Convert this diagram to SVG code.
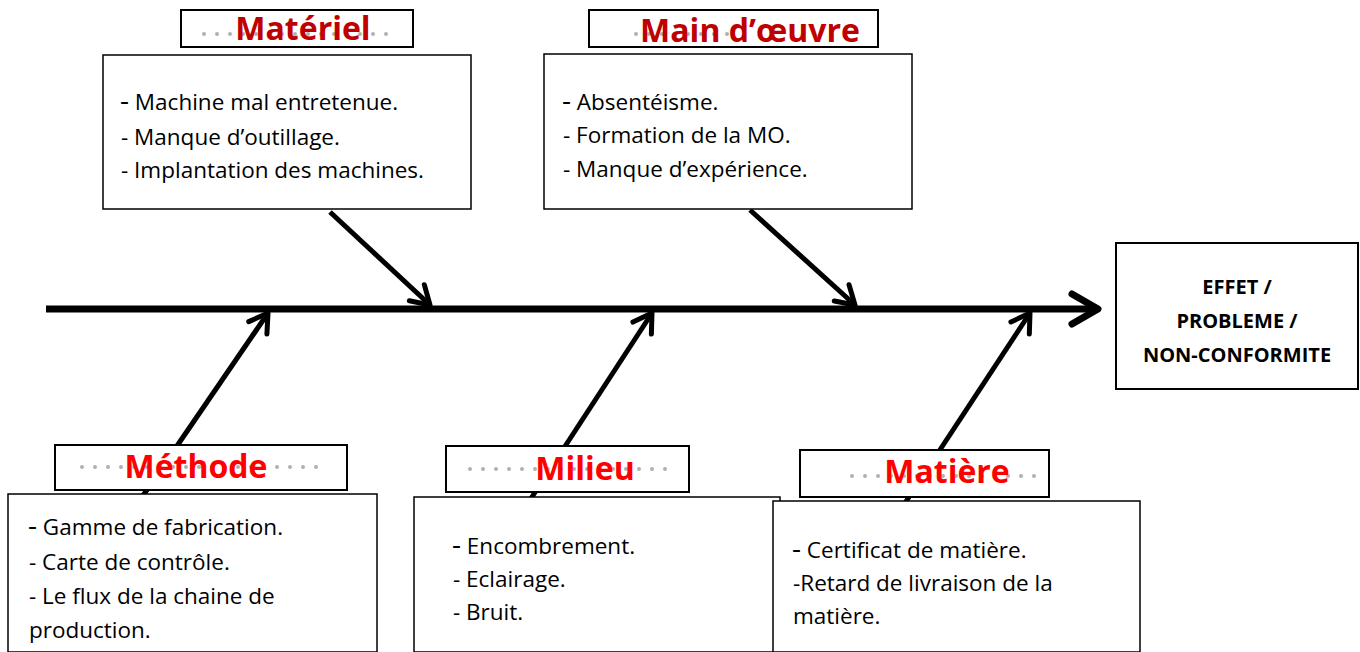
<svg xmlns="http://www.w3.org/2000/svg" width="1360" height="652" viewBox="0 0 1360 652">
<defs>
<marker id="ahb" viewBox="0 0 40 40" refX="30" refY="20" markerWidth="40" markerHeight="40" markerUnits="userSpaceOnUse" orient="auto" overflow="visible">
<path d="M4,5 L30,20 L4,35" fill="none" stroke="#000" stroke-width="7" stroke-linecap="round" stroke-linejoin="round"/>
</marker>
<marker id="a" viewBox="0 0 30 30" refX="24" refY="15" markerWidth="30" markerHeight="30" markerUnits="userSpaceOnUse" orient="auto" overflow="visible">
<path d="M6,4 L24,15 L6,26" fill="none" stroke="#000" stroke-width="5" stroke-linecap="round" stroke-linejoin="round"/>
</marker>
</defs>
<style>
.box{fill:#fff;stroke:#000;stroke-width:1.5}
.lbl{fill:#fff;stroke:#000;stroke-width:2}
.t{font-family:"Open Sans",Lato,sans-serif;font-size:22.5px;fill:#000}
.h1{font-family:"Open Sans",Lato,sans-serif;font-size:32px;font-weight:bold;fill:#C00000;text-anchor:middle}
.h2{font-family:"Open Sans",Lato,sans-serif;font-size:32px;font-weight:bold;fill:#FF0000;text-anchor:middle}
.dots{stroke:#b0b0b0;stroke-width:4;stroke-linecap:round;stroke-dasharray:0 13;fill:none}
.eff{font-family:"Open Sans",Lato,sans-serif;font-size:20px;font-weight:bold;fill:#000;text-anchor:middle}
.br{stroke:#000;stroke-width:5;fill:none;marker-end:url(#a)}
.big{font-size:28px}
</style>
<rect width="1360" height="652" fill="#fff"/>
<g id="connectors">
<line x1="46" y1="309" x2="1098" y2="309" stroke="#000" stroke-width="7" marker-end="url(#ahb)"/>
<line class="br" x1="330" y1="212" x2="430" y2="305"/>
<line class="br" x1="750" y1="210" x2="855" y2="305"/>
<line class="br" x1="140" y1="500" x2="268" y2="313"/>
<line class="br" x1="530" y1="500" x2="652" y2="313"/>
<line class="br" x1="905" y1="503" x2="1030" y2="313"/>
</g>
<g id="materiel">
<rect class="lbl" x="181" y="10" width="232" height="37"/>
<line class="dots" x1="204" y1="34" x2="390" y2="34"/>
<text class="h1" x="303" y="40">Matériel</text>
<rect class="box" x="103" y="55" width="368" height="154"/>
<text class="t" x="120" y="110"><tspan class="big">-</tspan> Machine mal entretenue.</text>
<text class="t" x="121" y="145">- Manque d’outillage.</text>
<text class="t" x="121" y="178">- Implantation des machines.</text>
</g>
<g id="main-oeuvre">
<rect class="lbl" x="589" y="10" width="289" height="37"/>
<line class="dots" x1="636" y1="34" x2="740" y2="34"/>
<text class="h1" x="750" y="42">Main d’œuvre</text>
<rect class="box" x="544" y="54" width="368" height="155"/>
<text class="t" x="562" y="110"><tspan class="big">-</tspan> Absentéisme.</text>
<text class="t" x="563" y="143">- Formation de la MO.</text>
<text class="t" x="563" y="177">- Manque d’expérience.</text>
</g>
<g id="methode">
<rect class="lbl" x="55" y="445" width="292" height="45"/>
<line class="dots" x1="82" y1="467" x2="320" y2="467"/>
<text class="h2" x="196" y="478">Méthode</text>
<rect class="box" x="8" y="494" width="369" height="158"/>
<text class="t" x="28" y="535"><tspan class="big">-</tspan> Gamme de fabrication.</text>
<text class="t" x="29" y="570">- Carte de contrôle.</text>
<text class="t" x="29" y="604">- Le flux de la chaine de</text>
<text class="t" x="29" y="638">production.</text>
</g>
<g id="milieu">
<rect class="lbl" x="446" y="446" width="243" height="46"/>
<line class="dots" x1="470" y1="469" x2="668" y2="469"/>
<text class="h2" x="585" y="480">Milieu</text>
<rect class="box" x="414" y="497" width="366" height="155"/>
<text class="t" x="452" y="554"><tspan class="big">-</tspan> Encombrement.</text>
<text class="t" x="453" y="587">- Eclairage.</text>
<text class="t" x="453" y="620">- Bruit.</text>
</g>
<g id="matiere">
<rect class="lbl" x="800" y="450" width="249" height="47"/>
<line class="dots" x1="852" y1="476" x2="1040" y2="476"/>
<text class="h2" x="947" y="483">Matière</text>
<rect class="box" x="773" y="501" width="367" height="151"/>
<text class="t" x="792" y="558"><tspan class="big">-</tspan> Certificat de matière.</text>
<text class="t" x="793" y="591">-Retard de livraison de la</text>
<text class="t" x="793" y="624">matière.</text>
</g>
<g id="effet">
<rect class="lbl" x="1116" y="243" width="242" height="146"/>
<text class="eff" x="1237" y="294">EFFET /</text>
<text class="eff" x="1237" y="328">PROBLEME /</text>
<text class="eff" x="1237" y="362">NON-CONFORMITE</text>
</g>
</svg>
